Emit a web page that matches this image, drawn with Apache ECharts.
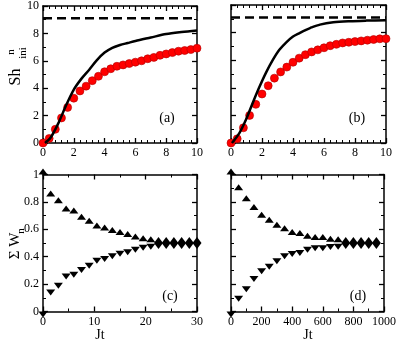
<!DOCTYPE html>
<html><head><meta charset="utf-8">
<script src="https://cdn.jsdelivr.net/npm/echarts@6/dist/echarts.min.js"></script>
<style>html,body{margin:0;padding:0;background:#fff}#c{width:399px;height:342px}</style>
</head><body><div id="c"></div>
<script>
// ---- data ----
const tAB = [0,0.4,0.8,1.2,1.6,2.0,2.4,2.8,3.2,3.6,4.0,4.4,4.8,5.2,5.6,6.0,6.4,6.8,7.2,7.6,8.0,8.4,8.8,9.2,9.6,10];
const redA = [0,0.33,1.0,1.83,2.6,3.27,3.8,4.15,4.55,4.87,5.2,5.42,5.6,5.7,5.8,5.9,6.0,6.15,6.25,6.4,6.5,6.6,6.7,6.75,6.82,6.92];
const redB = [0,0.3,1.1,2.0,2.8,3.55,4.15,4.7,5.15,5.5,5.85,6.15,6.4,6.6,6.75,6.9,7.05,7.15,7.25,7.3,7.35,7.4,7.45,7.5,7.55,7.56];
const lineA_t = [0.13,0.5,1.0,1.5,2.0,2.5,3.0,3.5,4.0,4.5,5.0,5.5,6.0,7.0,8.0,9.0,10];
const lineA_v = [0,0.4,1.45,2.75,3.9,4.7,5.35,6.05,6.6,6.95,7.15,7.3,7.45,7.7,7.95,8.1,8.22];
const lineB_t = [0.06,0.54,0.97,1.4,1.83,2.26,2.69,3.12,3.55,3.98,4.45,4.84,5.1,5.74,6.6,7.67,8.75,10];
const lineB_v = [0,0.72,1.7,2.9,4.05,5.1,6.0,6.75,7.28,7.7,7.98,8.2,8.33,8.58,8.75,8.83,8.87,8.9];
const dashLevel = 9.1;
const tC = [0,1.5,3,4.5,6,7.5,9,10.5,12,13.5,15,16.5,18,19.5,21,22.5,24,25.5,27,28.5,30];
const upC = [1.0,0.84,0.79,0.73,0.715,0.67,0.64,0.605,0.592,0.573,0.558,0.543,0.525,0.513,0.505,0.5,0.5,0.5,0.5,0.5,0.5];
const downC = [0,0.16,0.21,0.277,0.29,0.325,0.355,0.393,0.405,0.425,0.443,0.455,0.473,0.487,0.495,0.5,0.5,0.5,0.5,0.5,0.5];
const tD = [0,50,100,150,200,250,300,350,400,450,500,550,600,650,700,750,800,850,900,950];
const upD = [1,0.885,0.805,0.74,0.685,0.648,0.612,0.585,0.558,0.551,0.531,0.522,0.522,0.509,0.505,0.5,0.5,0.5,0.5,0.5];
const downD = [0,0.115,0.185,0.26,0.315,0.349,0.388,0.425,0.442,0.449,0.473,0.483,0.483,0.493,0.495,0.5,0.5,0.5,0.5,0.5];

const zip = (a,b) => a.map((v,i)=>[v,b[i]]);
const FONT = 'Liberation Serif';
const chart = echarts.init(document.getElementById('c'));

const grids = [
  {left:43, top:5, width:154, height:138},
  {left:231, top:5, width:155, height:138},
  {left:43, top:174.5, width:154, height:137},
  {left:231, top:174.5, width:155, height:137}
];
const xr = [[0,10,2],[0,10,2],[0,30,10],[0,1000,200]];
const yr = [[0,10,2],[0,10,2],[0,1,0.2],[0,1,0.2]];
const axLine = {show:true, onZero:false, lineStyle:{color:'#000', width:1.5}};
const tick = {show:true, inside:true, length:5, lineStyle:{color:'#000', width:1.3}};
const lab = {color:'#000', fontFamily:FONT, fontSize:12, formatter: v => String(v)};
const xAxis = [], yAxis = [];
grids.forEach((g,i)=>{
  const xm = i<2 ? 5 : 2;
  const ym = 2;
  ['bottom','top'].forEach(pos=>{
    xAxis.push({type:'value', gridIndex:i, position:pos, min:xr[i][0], max:xr[i][1], interval:xr[i][2],
      axisLine:axLine, axisTick:tick, splitLine:{show:false},
      minorTick:{show:true, splitNumber:xm, length:3, lineStyle:{color:'#000', width:1}},
      axisLabel: pos==='bottom' ? Object.assign({margin:4, showMinLabel:true, showMaxLabel:true}, lab) : {show:false}});
  });
  ['left','right'].forEach(pos=>{
    yAxis.push({type:'value', gridIndex:i, position:pos, min:yr[i][0], max:yr[i][1], interval:yr[i][2],
      axisLine:axLine, axisTick:tick, splitLine:{show:false},
      minorTick:{show:true, splitNumber:ym, length:3, lineStyle:{color:'#000', width:1}},
      axisLabel: (pos==='left' && (i===0||i===2)) ? Object.assign({margin:4}, lab) : {show:false}});
  });
});

const upSym = 'path://M5,0 L10,10 L0,10 Z';
const downSym = 'path://M0,0 L10,0 L5,10 Z';
const series = [];
function addPanel(i, s){ s.xAxisIndex = i*2; s.yAxisIndex = i*2; s.clip = false; s.animation=false; series.push(s); }
[0,1].forEach(i=>{
  addPanel(i, {type:'line', data:[[0,dashLevel],[10,dashLevel]], symbol:'none', lineStyle:{color:'#000', width:2.5, type:[9,5]}});
  addPanel(i, {type:'line', data: i===0 ? zip(lineA_t,lineA_v) : zip(lineB_t,lineB_v), symbol:'none', smooth:0.3, lineStyle:{color:'#000', width:2.5}});
  addPanel(i, {type:'scatter', data: zip(tAB, i===0?redA:redB), symbol:'circle', symbolSize:8,
    itemStyle:{color:'#ff0000', borderColor:'#b00000', borderWidth:0.6, opacity:1}});
});
[[2,tC,upC,downC],[3,tD,upD,downD]].forEach(([i,t,u,d])=>{
  addPanel(i, {type:'scatter', data:zip(t,u), symbol:upSym, symbolSize:[9,6], symbolOffset:[0,-3], itemStyle:{color:'#000', opacity:1}});
  addPanel(i, {type:'scatter', data:zip(t,d), symbol:downSym, symbolSize:[9,6], symbolOffset:[0,3], itemStyle:{color:'#000', opacity:1}});
});

const txt = (x,y,s,size,rot) => ({type:'text', x:x, y:y, rotation: rot||0,
  style:{text:s, fill:'#000', font:size+'px "'+FONT+'"', textAlign:'center', textVerticalAlign:'middle', align:'center', verticalAlign:'middle'}});
const R = Math.PI/2;
const graphic = [
  txt(167,118,'(a)',14), txt(357,118,'(b)',14), txt(170,296,'(c)',14), txt(358,296,'(d)',14),
  txt(100,335,'Jt',14), txt(308,335,'Jt',14),
  txt(16,77,'Sh',16,R), txt(23,53,'ini',11,R), txt(11,52,'n',11,R),
  txt(15,246,'Σ W',15,R), txt(21,231,'n',11,R)
];

chart.setOption({animation:false, grid:grids, xAxis:xAxis, yAxis:yAxis, series:series, graphic:graphic});
</script></body></html>
